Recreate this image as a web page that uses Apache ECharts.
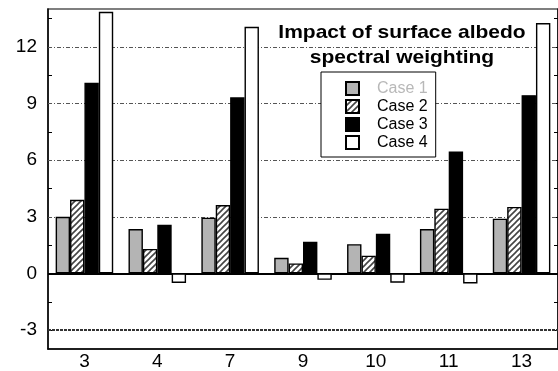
<!DOCTYPE html>
<html>
<head>
<meta charset="utf-8">
<script src="https://cdn.jsdelivr.net/npm/echarts@6/dist/echarts.min.js"></script>
<style>
  html, body { margin: 0; padding: 0; background: #fff; }
  #chart { width: 558px; height: 371px; }
</style>
</head>
<body>
<div id="chart"></div>
<script>
// Categories along the x axis
const categories = ['3', '4', '7', '9', '10', '11', '13'];

// Series values
const case1 = [3.0, 2.35, 2.95, 0.83, 1.55, 2.35, 2.9];
const case2 = [3.9, 1.3, 3.62, 0.53, 0.94, 3.43, 3.52];
const case3 = [10.1, 2.58, 9.33, 1.68, 2.1, 6.45, 9.44];
const case4 = [13.85, -0.5, 13.06, -0.34, -0.49, -0.53, 13.26];

// Axis ticks and labels
const yLabelValues = [-3, 0, 3, 6, 9, 12];
const yTickValues = [-3, -1.5, 0, 1.5, 3, 4.5, 6, 7.5, 9, 10.5, 12, 13.5];
const gridValues = [3, 6, 9, 12];

const titleText = 'Impact of surface albedo\nspectral weighting';
const FONT = 'Liberation Sans, Arial, sans-serif';

// Diagonal hatch fill for Case 2
function makeHatch() {
  const s = 6;
  const c = document.createElement('canvas');
  c.width = s; c.height = s;
  const g = c.getContext('2d');
  g.fillStyle = '#fff';
  g.fillRect(0, 0, s, s);
  g.strokeStyle = '#444';
  g.lineWidth = 1.6;
  g.beginPath();
  g.moveTo(-1, s + 1); g.lineTo(s + 1, -1);
  g.moveTo(-1, 1); g.lineTo(1, -1);
  g.moveTo(s - 1, s + 1); g.lineTo(s + 1, s - 1);
  g.stroke();
  return { image: c, repeat: 'repeat' };
}
const hatch = makeHatch();

const chart = echarts.init(document.getElementById('chart'), null, { renderer: 'canvas' });

const gridLines = gridValues.map(v => ({
  yAxis: v,
  lineStyle: { color: '#555', width: 1, type: [4, 2, 1, 2] }
}));
gridLines.push({ yAxis: -3, lineStyle: { color: '#333', width: 2, type: [3, 1] } });
gridLines.push({ yAxis: 0, lineStyle: { color: '#000', width: 2, type: 'solid' } });

function barSeries(name, data, color, extra) {
  return Object.assign({
    name: name,
    type: 'bar',
    data: data,
    barGap: '0%',
    barCategoryGap: '21%',
    itemStyle: { color: color, borderColor: '#000', borderWidth: 1.4 },
    emphasis: { disabled: true },
    animation: false
  }, extra || {});
}

const option = {
  animation: false,
  backgroundColor: '#fff',
  grid: {
    left: 48, top: 9, width: 511, height: 341,
    show: true, borderColor: '#555', borderWidth: 1.5, backgroundColor: 'transparent'
  },
  legend: {
    orient: 'vertical',
    left: 321, top: 72,
    padding: [8, 8, 6, 24],
    backgroundColor: '#fff',
    borderColor: '#000',
    borderWidth: 1,
    borderRadius: 0,
    itemWidth: 13, itemHeight: 13,
    itemGap: 1,
    icon: 'rect',
    selectedMode: false,
    textStyle: { fontFamily: FONT, fontSize: 16, color: '#000', lineHeight: 17, padding: [0, 0, 0, 13] },
    data: [
      { name: 'Case 1', textStyle: { color: '#b8b8b8' } },
      { name: 'Case 2' },
      { name: 'Case 3' },
      { name: 'Case 4' }
    ]
  },
  xAxis: {
    type: 'category',
    data: categories,
    axisLine: { onZero: false, lineStyle: { color: '#000', width: 1.5 } },
    axisTick: { show: false },
    axisLabel: { fontFamily: FONT, fontSize: 19, color: '#000', margin: 3 },
    splitLine: { show: false }
  },
  yAxis: [
    {
      type: 'value', min: -4, max: 14, position: 'left',
      axisLine: { show: true, lineStyle: { color: '#000', width: 1.5 } },
      axisTick: { show: true, inside: true, length: 4, customValues: yTickValues, lineStyle: { color: '#000' } },
      axisLabel: { customValues: yLabelValues, fontFamily: FONT, fontSize: 19, color: '#000', margin: 11 },
      splitLine: { show: false }
    },
    {
      type: 'value', min: -4, max: 14, position: 'right',
      axisLine: { show: true, lineStyle: { color: '#000', width: 1.5 } },
      axisTick: { show: true, inside: true, length: 4, customValues: yTickValues, lineStyle: { color: '#000' } },
      axisLabel: { show: false },
      splitLine: { show: false }
    }
  ],
  graphic: [
    {
      type: 'text',
      x: 402, y: 21,
      scaleY: 0.88,
      z: 100,
      style: {
        text: titleText,
        align: 'center',
        verticalAlign: 'top',
        fontFamily: FONT,
        fontSize: 21,
        fontWeight: 'bold',
        lineHeight: 28,
        fill: '#000'
      }
    }
  ],
  series: [
    barSeries('Case 1', case1, '#b4b4b4', {
      markLine: {
        silent: true, z: 1, symbol: 'none', animation: false,
        label: { show: false },
        emphasis: { disabled: true },
        data: gridLines
      }
    }),
    barSeries('Case 2', case2, hatch),
    barSeries('Case 3', case3, '#000'),
    barSeries('Case 4', case4, '#fff')
  ]
};

chart.setOption(option);
</script>
</body>
</html>
